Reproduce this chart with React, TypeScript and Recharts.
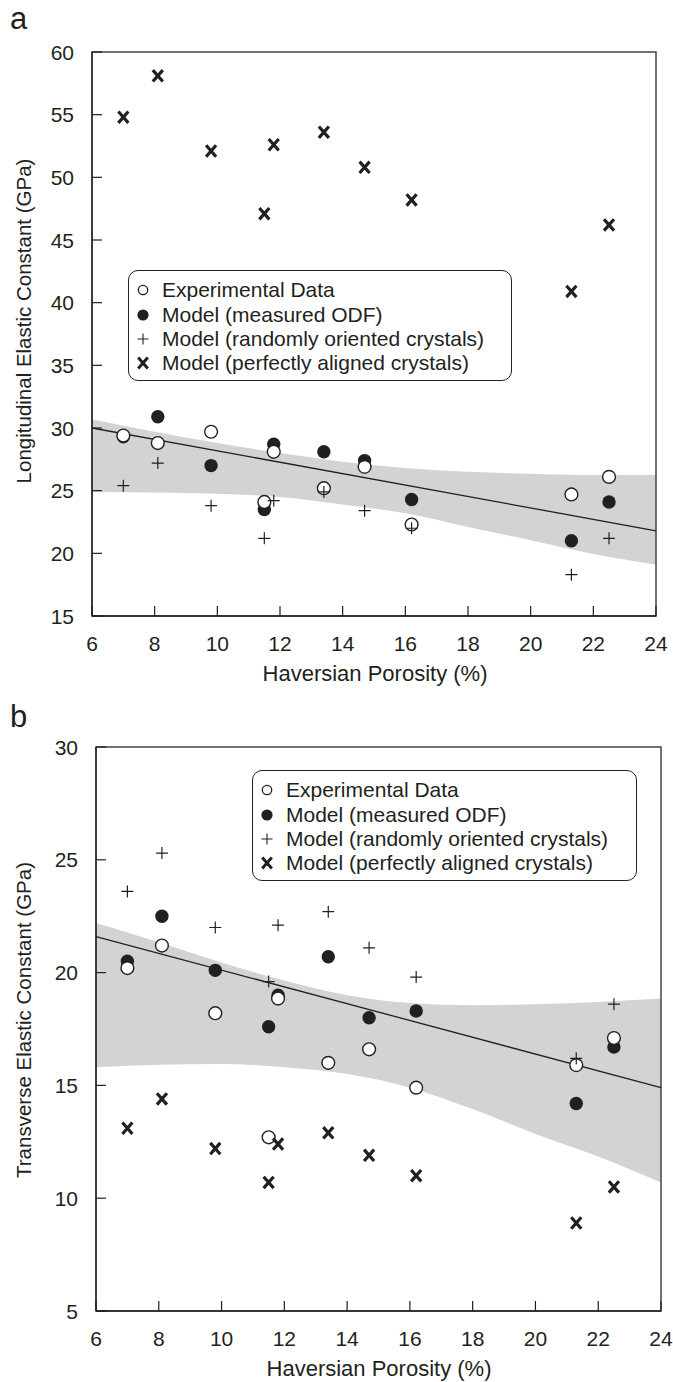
import React from 'react';
import {
  ComposedChart,
  XAxis,
  YAxis,
  Scatter,
  Area,
  ReferenceLine,
  ReferenceArea,
  Legend,
  Label,
} from 'recharts';

// ---------- data ----------
const porosity = [7.0, 8.1, 9.8, 11.5, 11.8, 13.4, 14.7, 16.2, 21.3, 22.5];

const longExperimental = [29.4, 28.8, 29.7, 24.1, 28.1, 25.2, 26.9, 22.3, 24.7, 26.1];
const longMeasuredODF = [29.3, 30.9, 27.0, 23.5, 28.7, 28.1, 27.4, 24.3, 21.0, 24.1];
const longRandom = [25.4, 27.2, 23.8, 21.2, 24.2, 24.9, 23.4, 22.0, 18.3, 21.2];
const longAligned = [54.8, 58.1, 52.1, 47.1, 52.6, 53.6, 50.8, 48.2, 40.9, 46.2];

const transExperimental = [20.2, 21.2, 18.2, 12.7, 18.85, 16.0, 16.6, 14.9, 15.9, 17.1];
const transMeasuredODF = [20.5, 22.5, 20.1, 17.6, 19.0, 20.7, 18.0, 18.3, 14.2, 16.7];
const transRandom = [23.6, 25.3, 22.0, 19.6, 22.1, 22.7, 21.1, 19.8, 16.2, 18.6];
const transAligned = [13.1, 14.4, 12.2, 10.7, 12.4, 12.9, 11.9, 11.0, 8.9, 10.5];

const bandX = [6, 8, 10, 12, 14, 16, 18, 20, 22, 24];
const longBandLow = [24.9, 24.85, 24.75, 24.5, 23.9, 23.2, 22.1, 21.05, 19.95, 19.1];
const longBandHigh = [30.7, 29.7, 28.8, 28.0, 27.3, 26.8, 26.5, 26.35, 26.25, 26.25];
const transBandLow = [15.8, 15.92, 15.95, 15.8, 15.5, 14.9, 13.95, 12.85, 11.85, 10.7];
const transBandHigh = [22.2, 21.35, 20.45, 19.65, 19.0, 18.65, 18.55, 18.6, 18.7, 18.85];

const longFitX = [6, 24];
const longFitY = [30.0, 21.8];
const transFitX = [6, 24];
const transFitY = [21.6, 14.9];

const xTicks = [6, 8, 10, 12, 14, 16, 18, 20, 22, 24];
const longTicks = [15, 20, 25, 30, 35, 40, 45, 50, 55, 60];
const transTicks = [5, 10, 15, 20, 25, 30];

const legendLabels = [
  'Experimental Data',
  'Model (measured ODF)',
  'Model (randomly oriented crystals)',
  'Model (perfectly aligned crystals)',
];
const legendKinds = ['open', 'filled', 'plus', 'cross'];

// ---------- styling ----------
const INK = '#231f20';
const BAND = '#d1d3d4';
const FONT = "'Liberation Sans', Arial, Helvetica, sans-serif";
const Y_MARGIN = 18;
const X_MARGIN = 19;
const TICK_LEN = 10;

const toPoints = (ys: number[]) => porosity.map((x, i) => ({ x, y: ys[i] }));
const toBand = (lo: number[], hi: number[]) =>
  bandX.map((x, i) => ({ x, range: [lo[i], hi[i]] }));
const toSegment = (xs: number[], ys: number[]) => xs.map((x, i) => ({ x, y: ys[i] }));

// ---------- markers ----------
const OpenCircle = (p: any) => (
  <circle cx={p.cx} cy={p.cy} r={6.4} fill="#fff" stroke={INK} strokeWidth={1.4} />
);
const FilledCircle = (p: any) => <circle cx={p.cx} cy={p.cy} r={6.7} fill={INK} />;
const PlusMark = (p: any) => (
  <path
    d={`M${p.cx - 6},${p.cy}H${p.cx + 6}M${p.cx},${p.cy - 6}V${p.cy + 6}`}
    stroke={INK}
    strokeWidth={1.2}
    fill="none"
  />
);
const CrossMark = (p: any) => (
  <path
    d={`M${p.cx - 5},${p.cy - 5.7}L${p.cx + 5},${p.cy + 5.7}M${p.cx + 5},${p.cy - 5.7}L${p.cx - 5},${p.cy + 5.7}`}
    stroke={INK}
    strokeWidth={3.2}
    fill="none"
  />
);

const LegendMarker = ({ kind }: { kind: string }) => {
  const c = 12;
  let el: any = null;
  if (kind === 'open') el = <circle cx={c} cy={c} r={4.7} fill="#fff" stroke={INK} strokeWidth={1.3} />;
  if (kind === 'filled') el = <circle cx={c} cy={c} r={5.6} fill={INK} />;
  if (kind === 'plus')
    el = <path d={`M${c - 5.5},${c}H${c + 5.5}M${c},${c - 5.5}V${c + 5.5}`} stroke={INK} strokeWidth={1.1} />;
  if (kind === 'cross')
    el = (
      <path
        d={`M${c - 4.8},${c - 5.4}L${c + 4.8},${c + 5.4}M${c + 4.8},${c - 5.4}L${c - 4.8},${c + 5.4}`}
        stroke={INK}
        strokeWidth={3}
      />
    );
  return (
    <svg width={24} height={24} style={{ display: 'block', marginLeft: 2, marginRight: 7 }}>
      {el}
    </svg>
  );
};

const makeLegend = (w: number, h: number) => () => (
  <div
    style={{
      boxSizing: 'border-box',
      width: w,
      height: h,
      border: `1.3px solid ${INK}`,
      borderRadius: 10,
      background: '#fff',
      paddingTop: 7,
      fontFamily: FONT,
      fontSize: 21,
      color: INK,
    }}
  >
    {legendLabels.map((lab, i) => (
      <div key={lab} style={{ display: 'flex', alignItems: 'center', height: 24.4, whiteSpace: 'nowrap' }}>
        <LegendMarker kind={legendKinds[i]} />
        <span>{lab}</span>
      </div>
    ))}
  </div>
);

// ---------- ticks ----------
const YTick = (props: any) => {
  const { x, y, payload } = props;
  return (
    <g>
      <line x1={x + Y_MARGIN} x2={x + Y_MARGIN + TICK_LEN} y1={y} y2={y} stroke={INK} strokeWidth={1.2} />
      <text x={x} y={y} dy={7.5} textAnchor="end" fontSize={21} fontFamily={FONT} fill={INK}>
        {payload.value}
      </text>
    </g>
  );
};
const XTick = (props: any) => {
  const { x, y, payload } = props;
  return (
    <g>
      <line x1={x} x2={x} y1={y - X_MARGIN} y2={y - X_MARGIN - TICK_LEN} stroke={INK} strokeWidth={1.2} />
      <text x={x} y={y} dy={15.5} textAnchor="middle" fontSize={21} fontFamily={FONT} fill={INK}>
        {payload.value}
      </text>
    </g>
  );
};

const titleText = (txt: string, x: number, y: number, rotate: boolean, size = 21) => () => (
  <text
    x={0}
    y={0}
    transform={`translate(${x}, ${y})${rotate ? ' rotate(-90)' : ''}`}
    textAnchor="middle"
    dominantBaseline="central"
    fontSize={size}
    fontFamily={FONT}
    fill={INK}
  >
    {txt}
  </text>
);

const letterText = (txt: string, x: number, y: number) => () => (
  <text x={x} y={y} fontSize={31} fontFamily={FONT} fill={INK}>
    {txt}
  </text>
);

type PanelProps = {
  height: number;
  margin: { top: number; right: number; left: number; bottom: number };
  yAxisWidth: number;
  xAxisHeight: number;
  yTicks: number[];
  yDomain: [number, number];
  band: any[];
  fit: any[];
  exp: number[];
  odf: number[];
  rnd: number[];
  ali: number[];
  yTitle: string;
  yTitleY: number;
  xTitleX: number;
  xTitleY: number;
  letter: string;
  letterY: number;
  legendBox: { left: number; top: number; width: number; height: number };
};

const Panel = (p: PanelProps) => (
  <ComposedChart width={673} height={p.height} data={p.band} margin={p.margin}>
    <XAxis
      dataKey="x"
      type="number"
      domain={[6, 24]}
      ticks={xTicks}
      allowDataOverflow
      height={p.xAxisHeight}
      tickSize={0}
      tickMargin={X_MARGIN}
      tick={XTick}
      axisLine={{ stroke: INK, strokeWidth: 1.3 }}
      tickLine={false}
      interval={0}
    >
      <Label content={titleText('Haversian Porosity (%)', p.xTitleX, p.xTitleY, false, 22)} />
    </XAxis>
    <YAxis
      type="number"
      domain={p.yDomain}
      ticks={p.yTicks}
      allowDataOverflow
      width={p.yAxisWidth}
      tickSize={0}
      tickMargin={Y_MARGIN}
      tick={YTick}
      axisLine={{ stroke: INK, strokeWidth: 1.3 }}
      tickLine={false}
      interval={0}
    >
      <Label content={titleText(p.yTitle, 23, p.yTitleY, true, 20.5)} />
      <Label content={letterText(p.letter, 10, p.letterY)} />
    </YAxis>
    <Area
      dataKey="range"
      type="monotone"
      fill={BAND}
      fillOpacity={1}
      stroke="none"
      dot={false}
      activeDot={false}
      isAnimationActive={false}
    />
    <ReferenceLine segment={p.fit} stroke={INK} strokeWidth={1.3} ifOverflow="visible" />
    <ReferenceArea
      x1={6}
      x2={24}
      y1={p.yDomain[0]}
      y2={p.yDomain[1]}
      fill="none"
      stroke="#444"
      strokeWidth={1.5}
      ifOverflow="visible"
    />
    <Scatter data={toPoints(p.odf)} dataKey="y" shape={FilledCircle} isAnimationActive={false} />
    <Scatter data={toPoints(p.exp)} dataKey="y" shape={OpenCircle} isAnimationActive={false} />
    <Scatter data={toPoints(p.rnd)} dataKey="y" shape={PlusMark} isAnimationActive={false} />
    <Scatter data={toPoints(p.ali)} dataKey="y" shape={CrossMark} isAnimationActive={false} />
    <Legend
      layout="horizontal"
      verticalAlign="middle"
      align="center"
      content={makeLegend(p.legendBox.width, p.legendBox.height)}
      wrapperStyle={{
        left: p.legendBox.left,
        top: p.legendBox.top,
        width: p.legendBox.width,
        height: p.legendBox.height,
      }}
    />
  </ComposedChart>
);

export default function App() {
  return (
    <div style={{ position: 'absolute', left: 0, top: 0, width: 673, height: 1382, background: '#fff' }}>
      <div style={{ position: 'absolute', left: 0, top: 0 }}>
        <Panel
          height={700}
          margin={{ top: 52, right: 17, left: 0, bottom: 0 }}
          yAxisWidth={92}
          xAxisHeight={84}
          yTicks={longTicks}
          yDomain={[15, 60]}
          band={toBand(longBandLow, longBandHigh)}
          fit={toSegment(longFitX, longFitY)}
          exp={longExperimental}
          odf={longMeasuredODF}
          rnd={longRandom}
          ali={longAligned}
          yTitle="Longitudinal Elastic Constant (GPa)"
          yTitleY={321}
          xTitleX={375}
          xTitleY={673}
          letter="a"
          letterY={29}
          legendBox={{ left: 128, top: 270, width: 384, height: 111 }}
        />
      </div>
      <div style={{ position: 'absolute', left: 0, top: 690 }}>
        <Panel
          height={692}
          margin={{ top: 57, right: 12, left: 0, bottom: 0 }}
          yAxisWidth={96}
          xAxisHeight={71}
          yTicks={transTicks}
          yDomain={[5, 30]}
          band={toBand(transBandLow, transBandHigh)}
          fit={toSegment(transFitX, transFitY)}
          exp={transExperimental}
          odf={transMeasuredODF}
          rnd={transRandom}
          ali={transAligned}
          yTitle="Transverse Elastic Constant (GPa)"
          yTitleY={330}
          xTitleX={379}
          xTitleY={678}
          letter="b"
          letterY={37}
          legendBox={{ left: 252, top: 80, width: 385, height: 111 }}
        />
      </div>
    </div>
  );
}
